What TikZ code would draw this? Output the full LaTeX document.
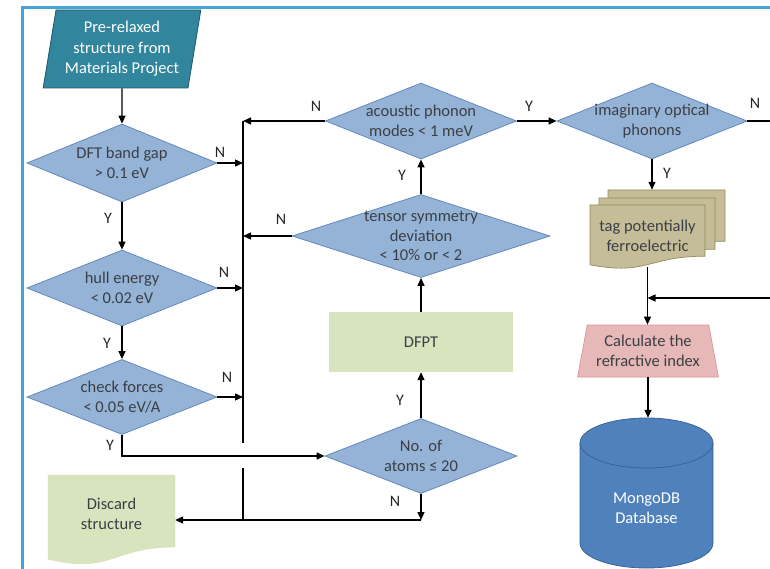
\documentclass[tikz,border=0pt]{standalone}
\usepackage{fontspec}
\setmainfont{Carlito}
\usetikzlibrary{shapes.geometric,arrows.meta}

\definecolor{decblue}{HTML}{95B3D7}
\definecolor{decline}{HTML}{6389BA}
\definecolor{inteal}{HTML}{31859C}
\definecolor{inline}{HTML}{205867}
\definecolor{boxgreen}{HTML}{D7E4BD}
\definecolor{doctan}{HTML}{C4BD97}
\definecolor{docline}{HTML}{938A58}
\definecolor{calcpink}{HTML}{E6B9B8}
\definecolor{calcline}{HTML}{D99694}
\definecolor{dbblue}{HTML}{4F81BD}
\definecolor{dbline}{HTML}{3A6494}
\definecolor{framecol}{HTML}{47A2D8}
\definecolor{txt}{HTML}{3B3F45}

\tikzset{
  txtfont/.style={font=\fontsize{16.5}{20}\selectfont},
  decision/.style={diamond, draw=decline, fill=decblue, line width=0.8pt,
    inner sep=-5pt, align=center, text=txt, txtfont},
  doctext/.style={rectangle, inner sep=0pt, align=center, text=txt, txtfont},
  flow/.style={line width=1.3pt, -{Triangle[length=8pt,width=7pt]}},
  link/.style={line width=1.3pt},
  yn/.style={font=\fontsize{16}{19}\selectfont, text=black!85},
}

% document shape: left, top, right, height, style
\newcommand{\docpath}[5]{%
  \path[#5] (#1,#2) -- (#3,#2) -- (#3,{#2+0.80*#4})
    .. controls ({(#1+#3)/2},{#2+0.80*#4}) and ({(#1+#3)/2},{#2+1.107*#4}) .. (#1,{#2+0.934*#4}) -- cycle;}

\begin{document}
\begin{tikzpicture}[x=1pt, y=-1pt, line cap=butt, line join=miter]

  %% ════ frame ════
  \draw[framecol, line width=3pt] (22,569) -- (22,8) -- (770,8);

  %% ════ document shapes (drawn first, text nodes on top) ════
  \docpath{48}{475}{175}{90}{fill=boxgreen, draw=boxgreen!92!gray}
  \docpath{608}{190}{725}{64}{fill=doctan, draw=docline, line width=0.7pt}
  \docpath{599}{198}{715}{64}{fill=doctan, draw=docline, line width=0.7pt}
  \docpath{590}{205}{705}{64}{fill=doctan, draw=docline, line width=0.7pt}

  %% ════ database cylinder ════
  \path[fill=dbblue, draw=dbline, line width=0.8pt] (580,443) -- (580,543)
    arc[start angle=180, end angle=0, x radius=66.5, y radius=25] -- (713,443)
    arc[start angle=0, end angle=-180, x radius=66.5, y radius=25] -- cycle;
  \draw[dbline, line width=0.8pt] (580,443) arc[start angle=180, end angle=0, x radius=66.5, y radius=25];

  %% ════ nodes ════
  \node[trapezium, trapezium left angle=79, trapezium right angle=101, trapezium stretches=true,
        minimum width=158, minimum height=78, fill=inteal, draw=inline, line width=0.8pt,
        inner sep=2pt, align=center, text=white, font=\fontsize{16.5}{20.5}\selectfont]
        (input) at (122,49) {Pre-relaxed\\structure from\\Materials Project};

  \node[decision, minimum width=190, minimum height=78, aspect=2.4] (gap)   at (122,163) {DFT band gap\\> 0.1 eV};
  \node[decision, minimum width=190, minimum height=76, aspect=2.5] (hull)  at (122,288) {hull energy\\< 0.02 eV};
  \node[decision, minimum width=190, minimum height=75, aspect=2.5] (force) at (122,397) {check forces\\< 0.05 eV/A};
  \node[decision, minimum width=192, minimum height=75, aspect=2.5] (atoms) at (421,456) {No. of\\atoms ≤ 20};

  \node[rectangle, fill=boxgreen, minimum width=184, minimum height=60, text=txt, txtfont]
        (dfpt) at (421,342) {DFPT};

  \node[decision, minimum width=258, minimum height=83, aspect=3.1,
        font=\fontsize{16.5}{19.5}\selectfont] (tensor) at (421,236) {tensor symmetry\\deviation\\< 10\% or < 2};
  \node[decision, minimum width=191, minimum height=76, aspect=2.5] (acoustic) at (421,121) {acoustic phonon\\modes < 1 meV};
  \node[decision, minimum width=190, minimum height=76, aspect=2.5] (imag)     at (652,121) {imaginary optical\\phonons};

  \node[doctext, minimum width=117, minimum height=64] (tagback) at (666.5,222) {};
  \node[doctext, minimum width=115, minimum height=62] (tag) at (647.5,236) {tag potentially\\ferroelectric};
  \node[doctext, minimum width=127, minimum height=84] (discard) at (111.5,514) {Discard\\structure};

  \node[trapezium, trapezium left angle=76, trapezium right angle=76, trapezium stretches=true,
        minimum width=141, minimum height=52, fill=calcpink, draw=calcline, line width=0.7pt,
        inner sep=1pt, align=center, text=txt, txtfont]
        (refr) at (648,351) {Calculate the\\refractive index};

  \node[doctext, minimum width=133, minimum height=150] (db) at (646.5,493) {};
  \node[doctext, text=white] (dbtext) at (646.5,508) {MongoDB\\Database};

  %% ════ Y / N labels ════
  \node[yn] (gapN)    at (220,152) {N};
  \node[yn] (hullN)   at (224,272) {N};
  \node[yn] (forceN)  at (227,377) {N};
  \node[yn] (gapY)    at (108,218) {Y};
  \node[yn] (hullY)   at (107,343) {Y};
  \node[yn] (forceY)  at (110,445) {Y};
  \node[yn] (atomsN)  at (395,501) {N};
  \node[yn] (atomsY)  at (400,400) {Y};
  \node[yn] (tensorY) at (402,175) {Y};
  \node[yn] (tensorN) at (281,219) {N};
  \node[yn] (acouN)   at (316,106) {N};
  \node[yn] (acouY)   at (529,106) {Y};
  \node[yn] (imagN)   at (755,103) {N};
  \node[yn] (imagY)   at (667,173) {Y};

  %% ════ bus on the left and helper points ════
  \coordinate (bustop) at (243,121);
  \coordinate (busA)   at (243,443);
  \coordinate (busB)   at (243,468);
  \coordinate (busbot) at (243,520);
  \coordinate (dropN)  at (421,520);
  \coordinate (offR)   at (785,298);

  %% ════ connectors ════
  \draw[flow] (input) -- (gap);
  \draw[flow] (gap) -- (hull);
  \draw[flow] (hull) -- (force);
  \draw[flow] (gap.east) -- (gap.east -| bustop);
  \draw[flow] (hull.east) -- (hull.east -| bustop);
  \draw[flow] (force.east) -- (force.east -| bustop);
  \draw[link] (bustop) -- (busA);
  \draw[link] (busB) -- (busbot);
  \draw[flow] (acoustic.west) -- (bustop);
  \draw[flow] (tensor.west) -- (tensor.west -| bustop);
  \draw[flow] (force.south) |- (atoms.west);
  \draw[flow] (atoms.south) -- (dropN);
  \draw[flow] (dropN) -- (dropN -| discard.east);
  \draw[flow] (atoms) -- (dfpt);
  \draw[flow] (dfpt) -- (tensor);
  \draw[flow] (tensor) -- (acoustic);
  \draw[flow] (acoustic) -- (imag);
  \draw[flow] (imag.south) -- (imag.south |- tagback.north);
  \draw[flow] (imag.east) -| (offR) -- (offR -| tag.south);
  \draw[flow] (tag.south) -- (tag.south |- refr.north);
  \draw[flow] (refr.south) -- (refr.south |- db.north);

  \pgfresetboundingbox
  \path[use as bounding box] (0,0) rectangle (770,569);
\end{tikzpicture}
\end{document}
